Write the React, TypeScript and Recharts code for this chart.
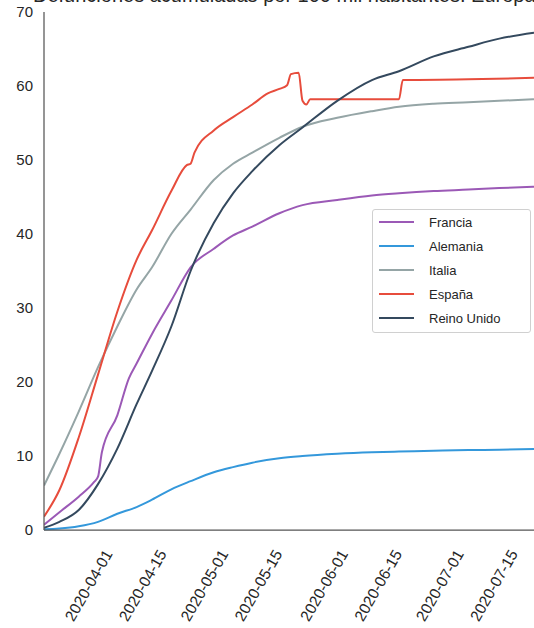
import React from "react";
import { LineChart, Line, XAxis, YAxis } from "recharts";

// day index: 0 = 2020-03-14
const START = Date.UTC(2020, 2, 14);
const X_TICKS = [18, 32, 48, 62, 79, 93, 109, 123];
const Y_TICKS = [0, 10, 20, 30, 40, 50, 60, 70];

const DAYS = [0, 4, 9, 14, 19, 24, 28, 33, 38, 44, 49, 54, 61, 67, 76, 85, 92, 101, 110, 118, 127];

const italia = [6.0, 10.3, 16.0, 22.0, 27.5, 32.5, 35.5, 40.0, 43.3, 47.3, 49.5, 51.0, 53.0, 54.5, 55.7, 56.6, 57.2, 57.6, 57.8, 58.0, 58.2];
const reinoUnido = [0.3, 1.1, 2.7, 6.2, 11.0, 17.0, 21.5, 27.5, 35.0, 41.5, 45.5, 48.5, 52.0, 54.4, 58.0, 60.8, 62.0, 64.0, 65.3, 66.4, 67.2];
const alemania = [0.1, 0.2, 0.5, 1.1, 2.2, 3.1, 4.1, 5.5, 6.6, 7.8, 8.5, 9.1, 9.7, 10.0, 10.3, 10.5, 10.6, 10.7, 10.8, 10.85, 10.95];

const FR_DAYS = [0, 4, 9, 13, 14, 15, 19, 22, 24, 28, 33, 38, 44, 49, 54, 61, 67, 76, 85, 92, 101, 110, 118, 127];
const francia = [0.7, 2.4, 4.5, 6.5, 7.2, 10.5, 15.5, 20.5, 22.5, 26.5, 31.0, 35.5, 38.0, 39.8, 41.0, 42.8, 43.9, 44.6, 45.2, 45.5, 45.8, 46.0, 46.2, 46.4];

const ES_DAYS = [0, 4, 9, 14, 19, 24, 28, 33, 37, 38, 39, 44, 49, 54, 58, 61, 63, 64, 66, 67, 68, 69, 92, 93, 110, 127];
const espana = [1.8, 5.4, 12.5, 21.0, 29.5, 36.5, 40.5, 45.8, 49.3, 49.5, 51.0, 54.0, 55.8, 57.5, 59.0, 59.6, 60.1, 61.6, 61.8, 58.0, 57.5, 58.2, 58.2, 60.8, 60.9, 61.1];

const toRows = (days: number[], vals: number[]) => days.map((d, i) => ({ d, v: vals[i] }));

const SERIES = [
  { name: "Francia", color: "#9b59b6", data: toRows(FR_DAYS, francia) },
  { name: "Alemania", color: "#3498db", data: toRows(DAYS, alemania) },
  { name: "Italia", color: "#95a5a6", data: toRows(DAYS, italia) },
  { name: "España", color: "#e74c3c", data: toRows(ES_DAYS, espana) },
  { name: "Reino Unido", color: "#34495e", data: toRows(DAYS, reinoUnido) },
];

const FONT = "'Liberation Sans', Arial, sans-serif";

const fmtDate = (d: number) => {
  const dt = new Date(START + d * 86400000);
  const m = String(dt.getUTCMonth() + 1).padStart(2, "0");
  const day = String(dt.getUTCDate()).padStart(2, "0");
  return `${dt.getUTCFullYear()}-${m}-${day}`;
};

const XTick = (props: any) => {
  const { x, payload } = props;
  return (
    <g transform={`translate(${x - 5},${551})`}>
      <text x={0} y={0} dy="0.35em" textAnchor="end" transform="rotate(-60)" fill="#262626" fontSize={15.5} fontFamily={FONT}>
        {fmtDate(payload.value)}
      </text>
    </g>
  );
};

const LegendBox = () => (
  <div
    style={{
      position: "absolute",
      left: 372,
      top: 209,
      border: "1px solid #d0d0d0",
      borderRadius: 3,
      background: "rgba(255,255,255,0.8)",
      width: 159,
      padding: "0 0 2px 0",
      fontFamily: FONT,
      fontSize: 13,
      color: "#262626",
      boxSizing: "border-box",
    }}
  >
    {SERIES.map((s) => (
      <div key={s.name} style={{ display: "flex", alignItems: "center", height: 24 }}>
        <div style={{ width: 35, height: 2, background: s.color, marginLeft: 6, marginRight: 15 }} />
        <span>{s.name}</span>
      </div>
    ))}
  </div>
);

export default function App() {
  return (
    <div style={{ position: "absolute", left: 0, top: 0, width: 534, height: 628, overflow: "hidden", background: "#fff" }}>
      <LineChart width={534} height={628} margin={{ top: 12, right: 0, left: 0, bottom: 0 }}>
        <XAxis
          dataKey="d"
          type="number"
          domain={[0, 127]}
          ticks={X_TICKS}
          allowDataOverflow
          height={98}
          tickLine={false}
          tickSize={0}
          tick={<XTick />}
          interval={0}
          stroke="#555"
          strokeWidth={1.25}
        />
        <YAxis
          type="number"
          domain={[0, 70]}
          ticks={Y_TICKS}
          width={44}
          tickLine={false}
          tickSize={0}
          tickMargin={11}
          interval={0}
          stroke="#555"
          strokeWidth={1.25}
          tick={{ fill: "#262626", fontSize: 15, fontFamily: FONT }}
        />
        {SERIES.map((s) => (
          <Line
            key={s.name}
            data={s.data}
            dataKey="v"
            name={s.name}
            type="monotone"
            stroke={s.color}
            strokeWidth={2}
            dot={false}
            isAnimationActive={false}
          />
        ))}
      </LineChart>
      <div
        style={{
          position: "absolute",
          left: 33,
          top: -16,
          whiteSpace: "nowrap",
          fontFamily: FONT,
          fontSize: 20,
          color: "#262626",
          lineHeight: "22px",
        }}
      >
        Defunciones acumuladas por 100 mil habitantes. Europa
      </div>
      <LegendBox />
    </div>
  );
}
